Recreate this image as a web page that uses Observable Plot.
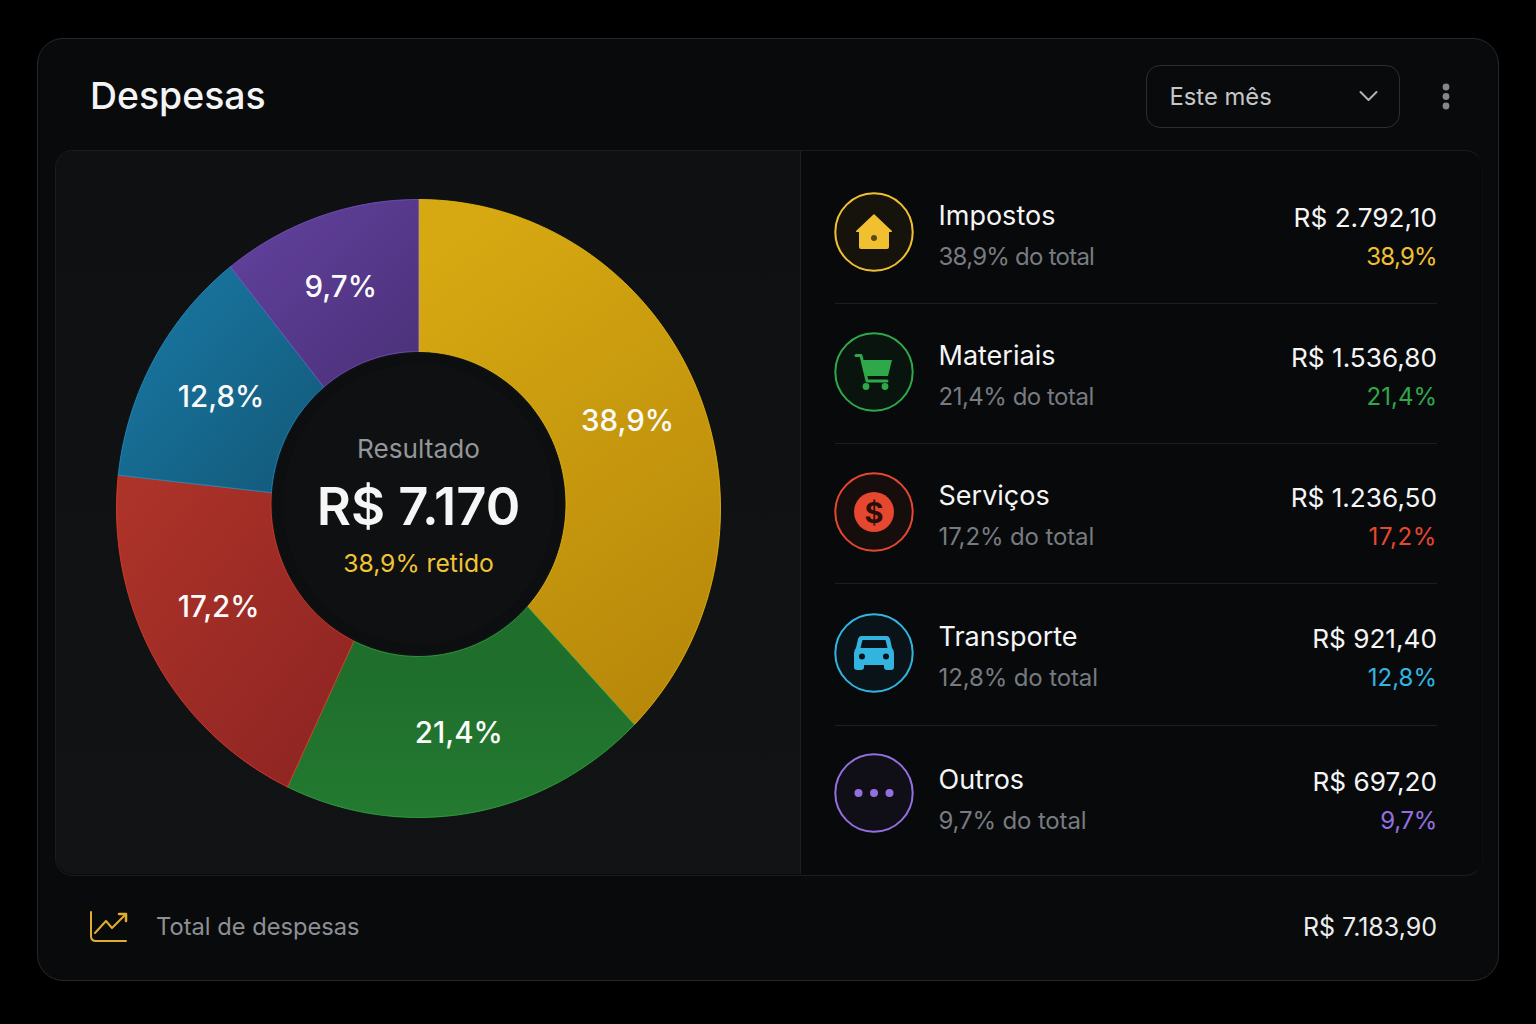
<!DOCTYPE html>
<html lang="pt-BR">
<head>
<meta charset="utf-8">
<title>Despesas</title>
<script src="https://cdn.jsdelivr.net/npm/d3@7"></script>
<script src="https://cdn.jsdelivr.net/npm/@observablehq/plot@0.6"></script>
<style>
html,body{margin:0;padding:0;background:#000;width:1536px;height:1024px;overflow:hidden;font-family:Inter,sans-serif}
.abs{position:absolute;white-space:nowrap}
#card{left:37px;top:38px;width:1460px;height:941px;border:1px solid #26282b;border-radius:26px;background:#090a0c}
#panel{left:55px;top:150px;width:1426px;height:724px;border:1px solid #1a1c1f;border-right-color:#0e1012;border-radius:18px;background:#08090b}
#left{left:56px;top:151px;width:744px;height:723px;border-radius:17px 0 0 17px;background:linear-gradient(180deg,#0e1011,#111315);border-right:1px solid #1c1e21}
#chart{left:55px;top:150px}
#title{left:90px;top:70.500px;font-size:37.4px;line-height:50px;font-weight:500;color:#f4f4f4}
#drop{left:1146px;top:65px;width:252px;height:61px;border:1px solid #2c2e32;border-radius:14px}
#dropt{left:1169.5px;top:80px;font-size:23.8px;line-height:34px;color:#c4c6c8}
.name{font-size:27px;line-height:34px;color:#f5f5f5;left:938.5px}
.sub{font-size:24px;line-height:32px;color:#777b80;left:938.5px}
.val{font-size:26.2px;line-height:34px;color:#f5f5f5;right:99px}
.pct{font-size:24px;line-height:32px;right:99px}
.sep{left:835px;width:602px;height:1px;background:#1c1e21}
#foot{left:156px;top:911px;font-size:23.7px;line-height:32px;color:#8d9094}
#tot{right:99px;top:911px;font-size:25px;line-height:32px;color:#ececec}
</style>
</head>
<body>
<div class="abs" id="card"></div>
<div class="abs" id="panel"></div>
<div class="abs" id="left"></div>
<div class="abs" id="chart"></div>
<div class="abs" id="title">Despesas</div>
<div class="abs" id="drop"></div>
<div class="abs" id="dropt">Este mês</div>
<svg class="abs" style="left:1350px;top:80px" width="110" height="34" fill="none">
  <path d="M10.500 12 L18.500 20 L26.500 12" stroke="#b0b2b4" stroke-width="2" stroke-linecap="round" stroke-linejoin="round"/>
  <circle cx="96" cy="7" r="3.400" fill="#85878a"/><circle cx="96" cy="16.500" r="3.400" fill="#85878a"/><circle cx="96" cy="26" r="3.400" fill="#85878a"/>
</svg>
<div class="abs" id="foot">Total de despesas</div>
<div class="abs" id="tot">R$ 7.183,90</div>
<svg class="abs" style="left:85px;top:905px" width="50" height="44" fill="none" stroke="#e0ae2e" stroke-width="2" stroke-linecap="round" stroke-linejoin="round">
  <path d="M6 7 V31 Q6 36 11 36 H41"/>
  <path d="M10 28 L21 16 L27 23 L40 10"/>
  <path d="M34 9 H41 V16" stroke-width="2.500"/>
</svg>
<div id="rows"></div>

<script>
const categories = ["Impostos", "Materiais", "Serviços", "Transporte", "Outros"];
const amounts = ["R$ 2.792,10", "R$ 1.536,80", "R$ 1.236,50", "R$ 921,40", "R$ 697,20"];
const percentLabels = ["38,9%", "21,4%", "17,2%", "12,8%", "9,7%"];
// Slice sweep as drawn in the picture, in percent of the circle (outer and inner rim).
const outerShares = [37.33, 19.81, 19.58, 12.58, 10.70];
const innerShares = [36.75, 20.47, 18.97, 12.72, 11.09];
const labelAngles = [67.9, 169.6, 244.2, 298.8, 340.2];
const labelRadii = [0.747, 0.74, 0.735, 0.746, 0.76];
const sliceTop = ["#d6a912", "#237a30", "#ae3429", "#1a7aa6", "#63429f"];
const sliceBottom = ["#b8880a", "#1f6e2c", "#8c2322", "#125878", "#4a3078"];
const sliceEdge = ["#e8b60e", "#2ea83e", "#e03c2a", "#1e8fc4", "#7a52c4"];
const accent = ["#f0c030", "#2fa84a", "#e5472f", "#33b4e0", "#9370e0"];
const ringFill = ["#15130b", "#0a140e", "#160e0d", "#0a1418", "#100e16"];
const subSpacing = [-0.75, -0.5, -0.12, -0.12, -0.15];
const pctSpacing = [-0.7, 0, 0.6, 0, -0.3];
const centerLines = ["Resultado", "R$ 7.170", "38,9% retido"];

const holeRx = 147.5 / 302, holeRy = 152.5 / 309, holeShift = 4.5 / 309;
const rad = d => d * Math.PI / 180;
const pt = (r, deg) => ({x: r * Math.sin(rad(deg)), y: r * Math.cos(rad(deg))});
const holePt = (k, deg) => ({x: k * holeRx * Math.sin(rad(deg)), y: k * holeRy * Math.cos(rad(deg)) + holeShift});

function ringPoints() {
  const rows = [];
  let so = 0, si = 0;
  categories.forEach((c, i) => {
    const eo = so + outerShares[i] * 3.6, ei = si + innerShares[i] * 3.6;
    const pts = [];
    for (const t of d3.range(0, 1.0001, 0.01)) pts.push(pt(1, so + (eo - so) * t));
    for (const t of d3.range(1, -0.0001, -0.01)) pts.push(holePt(1, si + (ei - si) * t));
    pts.push(pts[0]);
    pts.forEach(p => rows.push({...p, c, i}));
    so = eo; si = ei;
  });
  return rows;
}
function discPoints(k) { return d3.range(0, 361, 2).map(a => holePt(k, a)); }

const labelRows = categories.map((c, i) => ({...pt(labelRadii[i], labelAngles[i]), label: percentLabels[i]}));

const defs = () => {
  const ns = "http://www.w3.org/2000/svg";
  const d = document.createElementNS(ns, "defs");
  const dirs = [[0.3,0,0.7,1],[0.5,1,0.5,0.3],[0,0,1,1],[0,0,1,1],[0,0,1,1]];
  categories.forEach((c, i) => {
    const g = document.createElementNS(ns, "linearGradient");
    g.setAttribute("id", "grad" + i);
    ["x1","y1","x2","y2"].forEach((k, j) => g.setAttribute(k, dirs[i][j]));
    [[0, sliceTop[i]], [1, sliceBottom[i]]].forEach(([o, col]) => {
      const s = document.createElementNS(ns, "stop");
      s.setAttribute("offset", o); s.setAttribute("stop-color", col);
      g.appendChild(s);
    });
    d.appendChild(g);
  });
  return d;
};

const cx = 363, cy = 358, rx = 302, ry = 309;
const font = "Inter, sans-serif";
const chart = Plot.plot({
  width: 745, height: 725, margin: 0,
  style: {background: "transparent", fontFamily: font},
  x: {domain: [-1, 1], range: [cx - rx, cx + rx], axis: null},
  y: {domain: [-1, 1], range: [cy + ry, cy - ry], axis: null},
  marks: [
    defs,
    Plot.line(ringPoints(), {
      x: "x", y: "y", z: "c",
      fill: {value: d => `url(#grad${d.i})`, scale: null},
      stroke: {value: d => sliceEdge[d.i], scale: null},
      strokeWidth: 1, strokeOpacity: 0.85, curve: "linear"
    }),
    Plot.line(discPoints(0.985), {x: "x", y: "y", fill: "#0c0e0f", stroke: "none", curve: "linear"}),
    Plot.line(discPoints(0.92), {x: "x", y: "y", fill: "#0e1011", stroke: "none", curve: "linear"}),
    Plot.text(labelRows, {
      x: "x", y: "y", text: "label", fill: "#fbfbfb",
      fontSize: 29.5, fontWeight: 500, fontVariant: "normal", fontFamily: font,
      textAnchor: "middle", lineAnchor: "middle"
    }),
    Plot.text([centerLines[0]], {
      x: [0], y: [0], text: d => d, fill: "#93969a", dy: -59,
      fontSize: 26.2, fontVariant: "normal", fontFamily: font, lineAnchor: "middle"
    }),
    Plot.text([centerLines[1]], {
      x: [0], y: [0], text: d => d, fill: "#f6f6f6", dy: 0,
      fontSize: 52.5, fontWeight: 600, fontVariant: "normal", fontFamily: font, lineAnchor: "middle"
    }),
    Plot.text([centerLines[2]], {
      x: [0], y: [0], text: d => d, fill: "#f0c437", dy: 56,
      fontSize: 24.7, fontVariant: "normal", fontFamily: font, lineAnchor: "middle"
    })
  ]
});
document.getElementById("chart").appendChild(chart);

const icons = [
  c => `<path d="M0,-18 L18,-1 Q18.500,0 17,0 H15 V15 Q15,17 13,17 H-13 Q-15,17 -15,15 V0 H-17 Q-18.500,0 -18,-1 Z" fill="${c}"/><circle cx="0" cy="6" r="3" fill="#5c4a1e"/>`,
  c => `<path d="M-13,-12 H18 L14,4 H-9 Z" fill="${c}"/><path d="M-18,-16.500 H-13 L-7,9 H13" fill="none" stroke="${c}" stroke-width="3" stroke-linecap="round" stroke-linejoin="round"/><circle cx="-8" cy="14.500" r="3.400" fill="${c}"/><circle cx="11" cy="14.500" r="3.400" fill="${c}"/>`,
  c => `<circle r="20" fill="${c}"/><text y="10.500" text-anchor="middle" font-family="Inter" font-size="29" font-weight="700" fill="#2a0e0b">$</text>`,
  c => `<path d="M-13,-17 H13 Q15,-17 16,-14 L18,-5 Q20,-3 20,0 V14 Q20,17 17,17 H13 Q10,17 10,14 V12 H-10 V14 Q-10,17 -13,17 H-17 Q-20,17 -20,14 V0 Q-20,-3 -18,-5 L-16,-14 Q-15,-17 -13,-17 Z" fill="${c}"/><path d="M-11.500,-13 H11.500 L13.500,-5 H-13.500 Z" fill="#071318"/><circle cx="-12" cy="3.500" r="3" fill="#071318"/><circle cx="12" cy="3.500" r="3" fill="#071318"/>`,
  c => `<circle cx="-15.500" r="4" fill="${c}"/><circle r="4" fill="${c}"/><circle cx="15.500" r="4" fill="${c}"/>`
];
const rowY = [232, 372, 512, 653, 793];
const sepY = [303, 443, 583, 725];
const nameDY = [-16, -16, -16, -16, -13];
const rowsEl = document.getElementById("rows");
let html = "";
categories.forEach((c, i) => {
  const y = rowY[i];
  html += `<svg class="abs" style="left:831px;top:${y - 43}px" width="86" height="86" viewBox="-43 -43 86 86">
    <circle r="38.7" fill="${ringFill[i]}" stroke="${accent[i]}" stroke-width="2"/>${icons[i](accent[i])}</svg>`;
  const ny = y + nameDY[i];
  html += `<div class="abs name" style="top:${ny - 17}px">${c}</div>`;
  html += `<div class="abs sub" style="top:${ny + 25}px;letter-spacing:${subSpacing[i]}px">${percentLabels[i]} do total</div>`;
  html += `<div class="abs val" style="top:${ny - 15}px">${amounts[i]}</div>`;
  html += `<div class="abs pct" style="top:${ny + 25}px;color:${accent[i]};letter-spacing:${pctSpacing[i]}px">${percentLabels[i]}</div>`;
  if (i < 4) html += `<div class="abs sep" style="top:${sepY[i]}px"></div>`;
});
rowsEl.innerHTML = html;
</script>
</body>
</html>
